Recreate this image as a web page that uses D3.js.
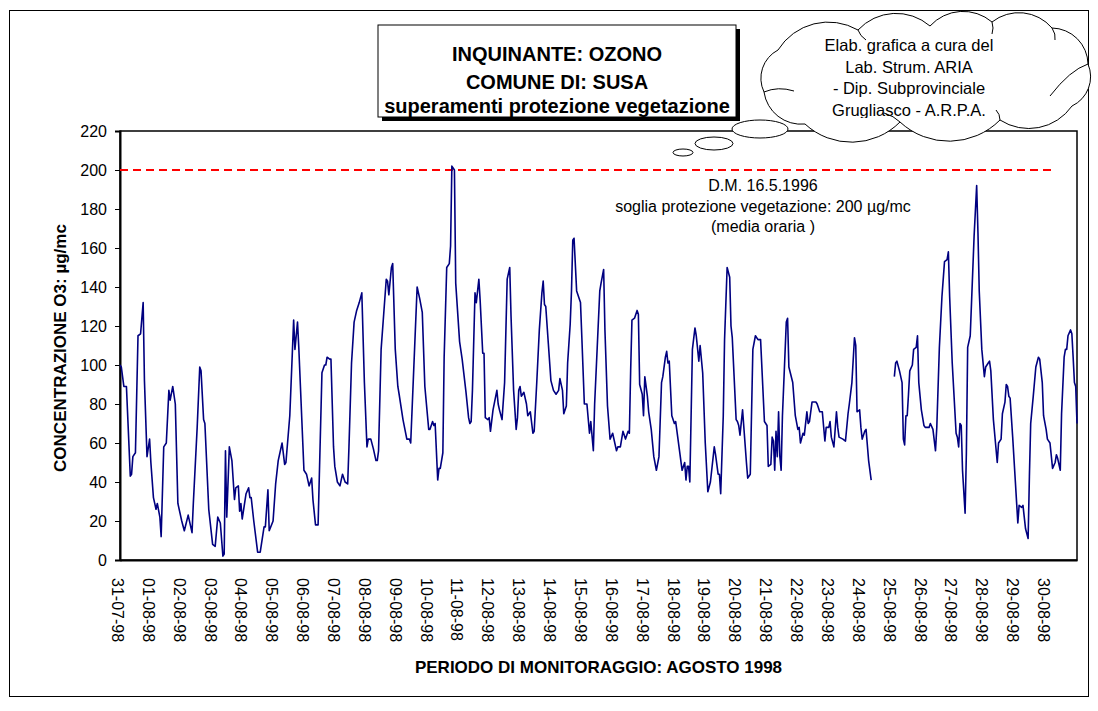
<!DOCTYPE html>
<html>
<head>
<meta charset="utf-8">
<title>Ozono - Susa - agosto 1998</title>
<style>
    body { margin: 0; background: #fff; }
    text { font-family: Arial, "Liberation Sans", sans-serif; fill: #000; }
</style>
</head>
<body>
<script src="https://cdnjs.cloudflare.com/ajax/libs/d3/7.8.5/d3.min.js"></script>
<script>
    // hour 0 = 31-07-98 00:00, values in µg/mc (null = missing data)
    var hours = [
        0, 1, 3, 5, 8, 9, 10, 12, 14, 16, 18, 19, 21, 23, 24, 26, 27, 28, 29, 31, 32, 34, 36, 38, 39, 41, 43, 45, 48, 50,
        53, 56, 57, 60, 62, 63, 65, 66, 69, 72, 74, 76, 78, 80, 81, 82, 83, 85, 87, 89, 90, 92, 93, 94, 95, 98, 100, 101, 102, 104,
        107, 109, 112, 113, 115, 116, 119, 121, 123, 126, 128, 129, 132, 135, 136, 138, 139, 143, 145, 147, 149, 150, 152, 154, 157, 159, 160, 161, 163, 164,
        166, 167, 169, 171, 173, 175, 177, 178, 180, 182, 184, 186, 188, 190, 192, 193, 195, 197, 199, 200, 201, 203, 205, 207, 208, 209, 211, 212, 214, 216,
        217, 220, 223, 225, 226, 229, 231, 233, 235, 237, 240, 241, 243, 244, 245, 247, 248, 249, 251, 252, 254, 256, 257, 258, 260, 261, 264, 266, 269, 271,
        272, 273, 274, 276, 277, 279, 280, 282, 283, 284, 286, 287, 288, 290, 293, 294, 295, 297, 299, 301, 303, 304, 306, 308, 309, 310, 311, 312, 314, 316,
        317, 319, 321, 322, 324, 326, 328, 329, 330, 331, 333, 335, 337, 339, 341, 342, 344, 345, 347, 348, 350, 351, 352, 353, 355, 358, 359, 361, 363, 365,
        366, 368, 369, 371, 373, 374, 376, 377, 379, 381, 383, 386, 387, 389, 391, 393, 395, 396, 397, 398, 400, 402, 403, 404, 406, 407, 408, 410, 411, 413,
        415, 417, 419, 421, 422, 424, 425, 426, 427, 429, 431, 432, 435, 437, 439, 440, 441, 442, 443, 445, 447, 448, 450, 451, 453, 455, 457, 459, 462, 463,
        465, 466, 467, 469, 470, 472, 474, 475, 476, 479, 480, 481, 482, 484, 487, 488, 490, 492, 494, 496, 498, 501, 503, 504, 506, 507, 508, 509, 510, 511,
        512, 513, 514, 515, 518, 519, 520, 523, 525, 527, 528, 529, 531, 532, 534, 535, 536, 538, 541, 542, 544, 546, 548, 549, 551, 552, 553, 555, 557, 558,
        559, 562, 564, 566, 567, 569, 571, 572, 573, 575, 576, 577, 579, 580, 582, 584, 585, 602, 603, 604, 606, 608, 609, 610, 611, 612, 613, 614, 616, 617,
        619, 620, 621, 623, 625, 626, 629, 630, 632, 634, 635, 637, 639, 641, 643, 644, 645, 647, 650, 651, 652, 653, 654, 655, 657, 658, 659, 661, 662, 664,
        666, 667, 668, 670, 671, 672, 673, 675, 676, 677, 679, 682, 683, 685, 686, 688, 689, 690, 691, 692, 694, 696, 698, 699, 701, 702, 703, 704, 706, 707,
        708, 710, 712, 714, 715, 717, 718, 720, 721, 723, 725, 727, 728, 729, 731, 732, 734, 735, 736, 737, 739, 740, 741, 742, 743, 744
    ];
    var ozone = [
        100, 99, 89, 89, 43, 44, 53, 55, 115, 116, 132, 92, 53, 62, 50, 32, 29, 26, 29, 22, 12, 58, 60, 87, 82, 89, 80, 29, 20, 15,
        23, 14, 29, 68, 99, 97, 72, 70, 26, 8, 7, 22, 19, 2, 3, 56, 22, 58, 51, 31, 37, 38, 25, 29, 21, 34, 37, 32, 32, 20,
        4, 4, 17, 17, 36, 15, 20, 39, 51, 60, 49, 50, 74, 123, 108, 122, 109, 46, 44, 38, 42, 31, 18, 18, 96, 100, 100, 104, 103, 103,
        58, 48, 40, 38, 44, 40, 39, 58, 101, 122, 128, 132, 137, 91, 58, 62, 62, 57, 51, 51, 56, 108, 126, 144, 143, 136, 150, 152, 108, 89,
        85, 72, 62, 62, 60, 108, 140, 134, 127, 89, 67, 67, 71, 69, 70, 41, 47, 47, 55, 104, 150, 152, 161, 202, 200, 142, 112, 103, 86, 73,
        70, 71, 87, 137, 132, 144, 133, 106, 106, 73, 72, 73, 66, 77, 87, 80, 77, 72, 91, 144, 150, 125, 87, 67, 73, 87, 89, 84, 86, 80,
        74, 76, 65, 66, 91, 118, 137, 143, 131, 130, 111, 92, 87, 85, 87, 93, 87, 75, 79, 101, 121, 138, 164, 165, 138, 132, 115, 80, 80, 65,
        71, 56, 80, 109, 138, 142, 149, 118, 79, 62, 65, 56, 58, 58, 66, 62, 66, 65, 97, 123, 124, 128, 126, 90, 85, 74, 94, 84, 76, 67,
        53, 46, 53, 91, 94, 104, 107, 101, 102, 74, 70, 71, 56, 46, 50, 41, 48, 48, 40, 108, 119, 115, 102, 110, 96, 60, 35, 40, 58, 54,
        44, 44, 34, 74, 113, 150, 145, 120, 114, 72, 71, 69, 64, 77, 50, 42, 44, 108, 115, 113, 113, 71, 69, 48, 49, 63, 61, 46, 66, 53,
        76, 53, 46, 74, 122, 124, 99, 91, 74, 67, 68, 60, 65, 64, 76, 70, 71, 81, 81, 80, 76, 76, 61, 68, 68, 71, 63, 58, 76, 68,
        63, 62, 61, 75, 80, 91, 114, 110, 76, 77, 68, 62, 66, 67, 51, 41, null, 94, 101, 102, 97, 91, 62, 59, 74, 74, 85, 97, 100, 108,
        109, 115, 91, 77, 69, 68, 68, 70, 67, 56, 68, 109, 135, 153, 154, 158, 135, 101, 65, 63, 58, 70, 69, 46, 24, 55, 109, 115, 132, 166,
        192, 168, 138, 108, 101, 94, 99, 101, 102, 97, 72, 50, 60, 62, 75, 81, 90, 89, 84, 83, 63, 41, 19, 28, 27, 28, 22, 16, 11, 43,
        70, 84, 99, 104, 103, 91, 74, 67, 62, 60, 47, 50, 54, 52, 46, 75, 104, 108, 108, 115, 118, 116, 104, 91, 89, 70
    ];
    var dayLabels = ['31-07-98', '01-08-98', '02-08-98', '03-08-98', '04-08-98', '05-08-98', '06-08-98', '07-08-98',
        '08-08-98', '09-08-98', '10-08-98', '11-08-98', '12-08-98', '13-08-98', '14-08-98', '15-08-98', '16-08-98',
        '17-08-98', '18-08-98', '19-08-98', '20-08-98', '21-08-98', '22-08-98', '23-08-98', '24-08-98', '25-08-98',
        '26-08-98', '27-08-98', '28-08-98', '29-08-98', '30-08-98'];
    var yTicks = [0, 20, 40, 60, 80, 100, 120, 140, 160, 180, 200, 220];
    var limitHours = [0, 725],
        limitValue = 200;
    var titleLines = ['INQUINANTE: OZONO', 'COMUNE DI: SUSA', 'superamenti protezione vegetazione'];
    var cloudLines = ['Elab. grafica a cura del', 'Lab. Strum. ARIA', '- Dip. Subprovinciale', 'Grugliasco - A.R.P.A.'];
    var noteLines = ['D.M. 16.5.1996', 'soglia protezione vegetazione: 200 µg/mc', '(media oraria )'];

    var width = 1098,
        height = 711,
        plot = {left: 120, right: 1077, top: 131, bottom: 560};

    var svg = d3.select('body').append('svg')
            .attr('width', width)
            .attr('height', height);

    // outer frame of the sheet
    svg.append('rect')
            .attr('x', 9.5).attr('y', 10.5)
            .attr('width', 1079).attr('height', 686)
            .attr('fill', '#fff').attr('stroke', '#000').attr('stroke-width', 1);

    var x = d3.scaleLinear().domain([0, 744]).range([plot.left, plot.right]);
    var y = d3.scaleLinear().domain([0, 220]).range([plot.bottom, plot.top]);

    // plot frame
    svg.append('rect')
            .attr('x', plot.left).attr('y', plot.top)
            .attr('width', plot.right - plot.left).attr('height', plot.bottom - plot.top)
            .attr('fill', 'none').attr('stroke', '#000').attr('stroke-width', 1.5);

    var yAxis = svg.append('g')
            .attr('transform', 'translate(' + plot.left + ',0)')
            .call(d3.axisLeft(y).tickValues(yTicks).tickSize(5).tickPadding(8));
    yAxis.select('.domain').attr('stroke-width', 2);
    yAxis.selectAll('text').style('font-size', '16px').style('font-family', 'Arial, "Liberation Sans", sans-serif');

    var xAxis = svg.append('g')
            .attr('transform', 'translate(0,' + plot.bottom + ')')
            .call(d3.axisBottom(x)
                    .tickValues(dayLabels.map(function (d, i) { return i * 24; }))
                    .tickSize(0)
                    .tickFormat(function (d, i) { return dayLabels[i]; }));
    xAxis.select('.domain').attr('stroke-width', 2);
    xAxis.selectAll('text')
            .attr('y', 0).attr('x', 18).attr('dy', '0.35em')
            .attr('text-anchor', 'start')
            .attr('transform', 'translate(-3,0) rotate(90)')
            .style('font-size', '16px').style('font-family', 'Arial, "Liberation Sans", sans-serif');

    // threshold 200 µg/mc
    svg.append('line')
            .attr('x1', x(limitHours[0])).attr('x2', x(limitHours[1]))
            .attr('y1', y(limitValue)).attr('y2', y(limitValue))
            .attr('stroke', '#ff0000').attr('stroke-width', 2)
            .attr('stroke-dasharray', '8,5');

    var series = hours.map(function (h, i) { return {h: h, v: ozone[i]}; });
    var line = d3.line()
            .defined(function (d) { return d.v !== null; })
            .x(function (d) { return x(d.h); })
            .y(function (d) { return y(d.v); });

    svg.append('path')
            .datum(series)
            .attr('d', line)
            .attr('fill', 'none')
            .attr('stroke', '#000080')
            .attr('stroke-width', 1.6)
            .attr('stroke-linejoin', 'round');

    svg.append('g').selectAll('text')
            .data(noteLines)
            .enter().append('text')
            .attr('x', 763)
            .attr('y', function (d, i) { return 191 + i * 20.5; })
            .attr('text-anchor', 'middle')
            .style('font-size', '16px')
            .text(function (d) { return d; });

    // axis titles
    svg.append('text')
            .attr('transform', 'translate(66,348) rotate(-90)')
            .attr('text-anchor', 'middle')
            .style('font-size', '17px').style('font-weight', 'bold')
            .text('CONCENTRAZIONE O3: µg/mc');
    svg.append('text')
            .attr('x', (plot.left + plot.right) / 2).attr('y', 673)
            .attr('text-anchor', 'middle')
            .style('font-size', '17px').style('font-weight', 'bold')
            .text('PERIODO DI MONITORAGGIO: AGOSTO 1998');

    // title box with shadow
    svg.append('rect')
            .attr('x', 382).attr('y', 29).attr('width', 358).attr('height', 92)
            .attr('fill', '#000');
    svg.append('rect')
            .attr('x', 378).attr('y', 25).attr('width', 358).attr('height', 92)
            .attr('fill', '#fff').attr('stroke', '#000').attr('stroke-width', 1);
    svg.append('g').selectAll('text')
            .data(titleLines)
            .enter().append('text')
            .attr('x', 557)
            .attr('y', function (d, i) { return [61, 89, 113][i]; })
            .attr('text-anchor', 'middle')
            .style('font-size', '20px').style('font-weight', 'bold')
            .text(function (d) { return d; });

    // thought cloud
    var bubbles = [[760, 129, 28, 9], [714, 143.5, 19, 6.5], [683, 152.5, 10, 3.5]];
    svg.append('g').selectAll('ellipse')
            .data(bubbles)
            .enter().append('ellipse')
            .attr('cx', function (d) { return d[0]; })
            .attr('cy', function (d) { return d[1]; })
            .attr('rx', function (d) { return d[2]; })
            .attr('ry', function (d) { return d[3]; })
            .attr('fill', '#fff').attr('stroke', '#000').attr('stroke-width', 1);

    var knots = [[778, 50], [858, 30], [930, 26], [992, 22], [1052, 28], [1088, 64], [1072, 106],
        [1000, 120], [900, 122], [805, 124], [764, 92]];
    var cloudPath = 'M' + knots[0][0] + ',' + knots[0][1];
    knots.forEach(function (p, i) {
        var q = knots[(i + 1) % knots.length];
        var c = Math.hypot(q[0] - p[0], q[1] - p[1]);
        cloudPath += 'A' + (c * 0.72) + ',' + (c * 0.72) + ' 0 0 1 ' + q[0] + ',' + q[1];
    });
    var cloud = svg.append('g');
    cloud.append('path')
            .attr('d', cloudPath + 'Z')
            .attr('fill', '#fff').attr('stroke', '#000').attr('stroke-width', 1);
    // little inner folds of the cloud outline
    cloud.append('path')
            .attr('d', 'M764,92 Q778,86 794,91 M1088,64 Q1070,70 1050,96 M858,30 Q860,36 866,40 ' +
                    'M992,22 Q994,28 992,34 M1052,28 Q1056,34 1055,40 M900,122 Q894,116 884,113 M1000,120 Q1000,114 996,110')
            .attr('fill', 'none').attr('stroke', '#000').attr('stroke-width', 1);

    svg.append('clipPath').attr('id', 'cloudText')
            .append('rect').attr('x', 770).attr('y', 20).attr('width', 280).attr('height', 98);
    svg.append('g').attr('clip-path', 'url(#cloudText)')
            .selectAll('text')
            .data(cloudLines)
            .enter().append('text')
            .attr('x', 909)
            .attr('y', function (d, i) { return 51 + i * 21.7; })
            .attr('text-anchor', 'middle')
            .style('font-size', '16.5px')
            .text(function (d) { return d; });
</script>
</body>
</html>
